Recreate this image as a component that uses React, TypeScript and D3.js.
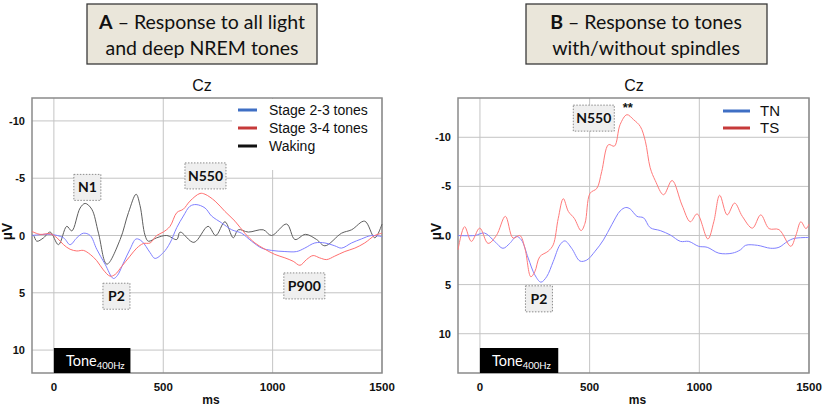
import React from 'react';
import * as d3 from 'd3';

type Pt = [number, number];

// ---- data (ms, µV) ----
const wakingA: Pt[] = [
  [-100, 0], [-93, 0], [-78, 0.5], [-47, 0.2], [-17, -0.3], [21, 0.8], [59, -0.8], [82, -0.4],
  [120, -2.4], [143, -2.8], [173, -2.3], [204, -0.2], [242, 2.5], [303, 0.35], [341, -2.0],
  [376, -3.6], [394, -2.6], [417, 0], [432, 0.5], [470, 0.2], [516, 0], [562, 0.35], [577, -0.3],
  [640, 0.6], [705, -0.8], [740, 0], [782, -1.2], [820, 0.2], [843, -0.5], [889, -0.3], [957, -0.5],
  [995, 0], [1064, -1.0], [1102, 0.35], [1150, -0.1], [1201, 0.35], [1239, 0.9], [1315, -0.2],
  [1361, -0.5], [1421, -1.25], [1467, 0.2], [1500, -1.0],
];
const stage23A: Pt[] = [
  [-100, 0], [-17, -0.1], [44, 0.2], [74, 0.8], [105, 0.2], [135, -0.2], [166, 0], [196, 1.2],
  [234, 2.5], [272, 3.75], [290, 3.5], [318, 2.4], [348, 1.2], [376, 0.3], [402, 0.5], [440, 1.5],
  [462, 2.0], [500, 1.5], [531, 0.65], [562, -0.7], [592, -1.7], [622, -2.55], [650, -2.7],
  [691, -2.4], [721, -1.7], [767, -1.1], [813, -0.5], [858, -0.2], [904, 0.5], [950, 1.1],
  [995, 1.3], [1056, 1.4], [1110, 1.4], [1147, 1.1], [1193, 0.65], [1239, 0.65], [1284, 0.9],
  [1315, 1.1], [1361, 0.65], [1406, 0.3], [1452, 0], [1500, 0.1],
];
const stage34A: Pt[] = [
  [-100, -0.35], [-63, -0.1], [-17, -0.15], [14, 0.2], [44, 0.8], [74, 1.2], [105, 1.35],
  [135, 1.3], [166, 1.65], [196, 2.2], [226, 3.0], [257, 3.55], [280, 3.4], [310, 2.7],
  [348, 1.8], [379, 1.1], [409, 0.7], [440, 0.65], [470, 0], [500, -0.3], [531, -0.8],
  [562, -2.0], [592, -2.3], [622, -3.0], [668, -3.67], [691, -3.6], [737, -3.0], [782, -2.1],
  [828, -1.25], [873, -0.2], [919, 0.65], [965, 1.2], [1010, 1.65], [1056, 1.95], [1094, 2.25],
  [1125, 2.6], [1155, 2.1], [1185, 1.75], [1215, 1.95], [1247, 2.1], [1284, 1.8], [1330, 1.4],
  [1376, 1.1], [1421, 0.65], [1467, 0], [1500, -0.2],
];
const tnB: Pt[] = [
  [-100, 0], [-24, 0], [21, -0.25], [67, 0.6], [105, 1.3], [136, 0.8], [166, 0.1], [189, 0.45],
  [220, 2.3], [250, 4.0], [278, 4.75], [304, 4.2], [334, 2.65], [365, 0.95], [387, 0.55],
  [418, 1.3], [456, 2.6], [487, 2.5], [525, 1.6], [563, 0.45], [601, -1.1], [639, -2.5],
  [665, -2.85], [685, -2.7], [716, -1.95], [746, -1.8], [776, -0.8], [822, -0.5], [868, -0.05],
  [914, 0.6], [952, 0.6], [997, 1.1], [1036, 1.2], [1089, 1.8], [1150, 1.8], [1188, 1.45],
  [1211, 1.0], [1265, 1.0], [1325, 1.3], [1363, 1.2], [1402, 0.6], [1432, 0.3], [1500, 0.2],
];
const tsB: Pt[] = [
  [-100, 1.45], [-70, -0.9], [-39, 0.6], [-1, -0.75], [37, 0.8], [75, 0], [116, -1.95],
  [151, 0.27], [182, 0], [205, 1.3], [232, 4.2], [250, 3.7], [273, 2.15], [311, 1.6],
  [334, 0.95], [357, -1.75], [380, -3.75], [403, -2.45], [430, -1.75], [461, -0.5], [479, -1.25],
  [502, -4.3], [533, -4.8], [555, -6.5], [586, -9.25], [613, -9.1], [639, -11.3], [670, -12.3],
  [700, -11.8], [731, -11.1], [754, -9.6], [776, -6.9], [799, -5.6], [837, -4.15], [876, -5.6],
  [921, -3.1], [959, -1.4], [990, -2.2], [1039, 0.35], [1066, -1.4], [1093, -4.1], [1127, -2.1],
  [1161, -3.3], [1196, -1.95], [1242, -0.75], [1280, -2.1], [1318, -0.7], [1363, -0.6],
  [1417, 1.1], [1440, 0], [1463, -1.4], [1486, -0.7], [1500, -1.15],
];

const xDomain: Pt = [-100, 1500];
const xTicks = [0, 500, 1000, 1500];
const yTicks = [-10, -5, 0, 5, 10];
const yDomainA: Pt = [-12, 12];
const yDomainB: Pt = [-14, 14];
const toneA: Pt = [0, 350];
const toneB: Pt = [0, 357];

const legendA = ['Stage 2-3 tones', 'Stage 3-4 tones', 'Waking'];
const legendB = ['TN', 'TS'];

// peak labels: [text, ms, µV]
const peaksA: [string, number, number][] = [
  ['N1', 153, -4.2], ['N550', 693, -5.2], ['P2', 286, 5.3], ['P900', 1145, 4.4],
];
const peaksB: [string, number, number][] = [['N550', 519, -11.95], ['P2', 269, 6.45]];

const FONT = '"Liberation Sans", Arial, sans-serif';
const TITLE_FONT = 'Lato, "Open Sans", sans-serif';

interface Series { pts: Pt[]; color: string; legendColor: string; }

interface PanelProps {
  left: number; right: number; top: number; bottom: number;
  yDomain: Pt;
  series: Series[]; // drawn order
  legendOrder: number[];
  legendLabels: string[];
  legend: { x0: number; x1: number; tx: number; y: number; dy: number; size: number };
  mask?: { x: number; y: number; w: number; h: number };
  peaks: [string, number, number][];
  stars?: [number, number];
  tone: Pt;
  title: { cx: number; x0: number; x1: number; letter: string; lines: string[] };
  czX: number;
  yLabelX: number; muX: number;
}

function Panel(p: PanelProps) {
  const x = d3.scaleLinear().domain(xDomain).range([p.left, p.right]);
  const y = d3.scaleLinear().domain(p.yDomain).range([p.top, p.bottom]);
  const line = d3.line<Pt>().x(d => x(d[0])).y(d => y(d[1])).curve(d3.curveCatmullRom.alpha(0.5));

  return (
    <g>
      {/* title box */}
      <rect x={p.title.x0} y={4} width={p.title.x1 - p.title.x0} height={60}
        fill="#eae6da" stroke="#3a3a3a" strokeWidth={1.3} />
      <text x={p.title.cx} y={29} textAnchor="middle" fontFamily={TITLE_FONT} fontSize={19.5} fill="#111">
        <tspan fontWeight="bold">{p.title.letter}</tspan>{p.title.lines[0]}
      </text>
      <text x={p.title.cx} y={55} textAnchor="middle" fontFamily={TITLE_FONT} fontSize={19.5} fill="#111">
        {p.title.lines[1]}
      </text>
      <text x={p.czX} y={91} textAnchor="middle" fontFamily={FONT} fontSize={16} fill="#111">Cz</text>

      {/* grid */}
      <rect x={p.left} y={p.top} width={p.right - p.left} height={p.bottom - p.top} fill="#fff" />
      {xTicks.map(t => (
        <line key={'gx' + t} x1={x(t)} x2={x(t)} y1={p.top} y2={p.bottom} stroke="#c4c4c4" strokeWidth={1} />
      ))}
      {yTicks.map(t => (
        <line key={'gy' + t} x1={p.left} x2={p.right} y1={y(t)} y2={y(t)} stroke="#c4c4c4" strokeWidth={1} />
      ))}
      {p.mask && <rect x={p.mask.x} y={p.mask.y} width={p.mask.w} height={p.mask.h} fill="#fff" />}
      <rect x={p.left} y={p.top} width={p.right - p.left} height={p.bottom - p.top}
        fill="none" stroke="#8a8a8a" strokeWidth={1.5} />

      {/* tick labels */}
      {yTicks.map(t => (
        <text key={'yl' + t} x={p.yLabelX} y={y(t) + 4} textAnchor="end" fontFamily={FONT}
          fontWeight="bold" fontSize={11} fill="#111">{t}</text>
      ))}
      {xTicks.map(t => (
        <text key={'xl' + t} x={x(t)} y={391} textAnchor="middle" fontFamily={FONT}
          fontWeight="bold" fontSize={11.5} fill="#111">{t}</text>
      ))}
      <text x={(p.left + p.right) / 2 + 4} y={404} textAnchor="middle" fontFamily={FONT}
        fontWeight="bold" fontSize={12} fill="#111">ms</text>
      <text transform={`translate(${p.muX},${y(0) - 4}) rotate(-90)`} textAnchor="middle"
        fontFamily={FONT} fontWeight="bold" fontSize={14} fill="#111">µV</text>

      {/* curves */}
      {p.series.map((s, i) => (
        <path key={'s' + i} d={line(s.pts) || ''} fill="none" stroke={s.color} strokeWidth={1} />
      ))}

      {/* legend */}
      {p.legendOrder.map((si, i) => (
        <g key={'lg' + i}>
          <line x1={p.legend.x0} x2={p.legend.x1} y1={p.legend.y + i * p.legend.dy}
            y2={p.legend.y + i * p.legend.dy} stroke={p.series[si].legendColor} strokeWidth={3} />
          <text x={p.legend.tx} y={p.legend.y + i * p.legend.dy + p.legend.size * 0.36}
            fontFamily={FONT} fontSize={p.legend.size} fill="#111">{p.legendLabels[i]}</text>
        </g>
      ))}

      {/* peak labels */}
      {p.peaks.map(([t, ms, v]) => {
        const w = t.length > 2 ? 41 : 27;
        const cx = x(ms), cy = y(v);
        return (
          <g key={'pk' + t}>
            <rect x={cx - w / 2} y={cy - 13} width={w} height={26} fill="#efefef"
              stroke="#8c8c8c" strokeWidth={1} strokeDasharray="1.5 1.5" />
            <text x={cx} y={cy + 5} textAnchor="middle" fontFamily={TITLE_FONT} fontWeight="bold"
              fontSize={14} fill="#111">{t}</text>
          </g>
        );
      })}
      {p.stars && (
        <text x={x(p.stars[0])} y={y(p.stars[1]) + 6} textAnchor="middle" fontFamily={FONT}
          fontWeight="bold" fontSize={13} fill="#111">**</text>
      )}

      {/* tone bar */}
      <rect x={x(p.tone[0])} y={p.bottom - 25} width={x(p.tone[1]) - x(p.tone[0])} height={25} fill="#000" />
      <text x={x(p.tone[0]) + 12} y={p.bottom - 7} fontFamily={TITLE_FONT} fontSize={14.5} fill="#fff">
        Tone<tspan fontSize={9.5} dy={3}>400Hz</tspan>
      </text>
    </g>
  );
}

export default function App() {
  return (
    <svg width={827} height={407} style={{ position: 'absolute', left: 0, top: 0, background: '#fff' }}>
      <Panel
        left={32} right={382} top={98} bottom={373}
        yDomain={yDomainA}
        series={[
          { pts: wakingA, color: '#5e5e5e', legendColor: '#111' },
          { pts: stage23A, color: '#8080ff', legendColor: '#3f6fc4' },
          { pts: stage34A, color: '#ff6f6f', legendColor: '#c63a3a' },
        ]}
        legendOrder={[1, 2, 0]}
        legendLabels={legendA}
        legend={{ x0: 238, x1: 257, tx: 269, y: 110, dy: 18, size: 14 }}
        mask={{ x: 232, y: 99, w: 149, h: 71 }}
        peaks={peaksA}
        tone={toneA}
        title={{ cx: 202, x0: 87, x1: 317, letter: 'A', lines: [' – Response to all light', 'and deep NREM tones'] }}
        czX={202}
        yLabelX={25}
        muX={12}
      />
      <Panel
        left={458} right={809} top={98} bottom={373}
        yDomain={yDomainB}
        series={[
          { pts: tnB, color: '#8080ff', legendColor: '#3f6fc4' },
          { pts: tsB, color: '#ff7a7a', legendColor: '#c63a3a' },
        ]}
        legendOrder={[0, 1]}
        legendLabels={legendB}
        legend={{ x0: 723, x1: 750, tx: 760, y: 111, dy: 17, size: 15 }}
        peaks={peaksB}
        stars={[674, -13.2]}
        tone={toneB}
        title={{ cx: 646, x0: 526, x1: 767, letter: 'B', lines: [' – Response to tones', 'with/without spindles'] }}
        czX={634}
        yLabelX={451}
        muX={441}
      />
    </svg>
  );
}
